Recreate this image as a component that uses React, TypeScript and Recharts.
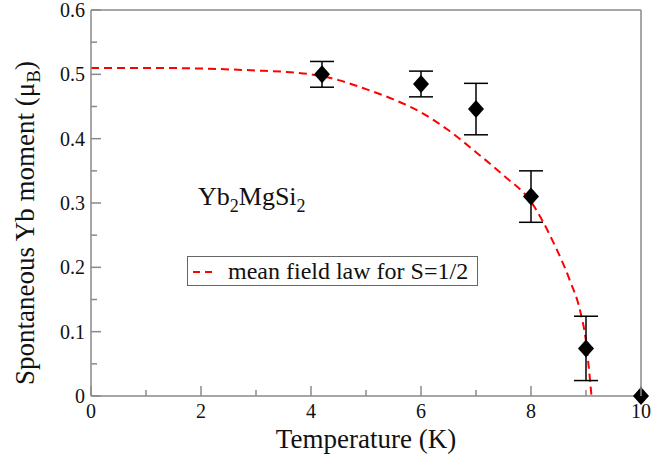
import React from 'react';
import { ComposedChart, Line, Scatter, ErrorBar, XAxis, YAxis, Legend } from 'recharts';

// measured moments
const temps = [4.2, 6, 7, 8, 9, 10];
const moments = [0.5, 0.485, 0.446, 0.31, 0.074, 0];
const errors = [0.02, 0.02, 0.04, 0.04, 0.05, null];

// mean field law for S=1/2
const curveT = [0, 1, 2, 3, 3.5, 4, 4.5, 5, 5.5, 6, 6.5, 7, 7.5, 8, 8.4, 8.7, 8.9, 9.0, 9.05, 9.1];
const curveM = [0.51, 0.51, 0.509, 0.506, 0.504, 0.5, 0.491, 0.477, 0.461, 0.441, 0.413, 0.379, 0.343, 0.302, 0.24, 0.181, 0.13, 0.085, 0.045, 0];

const xTicks = [0, 1, 2, 3, 4, 5, 6, 7, 8, 9, 10];
const yTicks = [0, 0.05, 0.1, 0.15, 0.2, 0.25, 0.3, 0.35, 0.4, 0.45, 0.5, 0.55, 0.6];

const points = temps.map((t, i) => ({ t, m: moments[i], err: errors[i] }));
const curve = curveT.map((t, i) => ({ t, m: curveM[i] }));

const FONT = '"Liberation Serif", "Times New Roman", serif';
const AXIS = '#8a8a8a';
const txt = { fontFamily: FONT };

const isMajorX = (v: number) => v % 2 === 0;
const isMajorY = (v: number) => Math.abs(v * 10 - Math.round(v * 10)) < 1e-6;

const BottomTick = ({ x, y, payload }: any) => {
  const major = isMajorX(payload.value);
  return (
    <g>
      <line x1={x} x2={x} y1={y} y2={y - (major ? 10 : 6)} stroke={AXIS} strokeWidth={1.5} />
      {major && (
        <text x={x} y={y + 22} textAnchor="middle" fontSize={20} style={txt} fill="#111">
          {payload.value}
        </text>
      )}
    </g>
  );
};

const TopTick = ({ x, y, payload }: any) => (
  <line x1={x} x2={x} y1={y} y2={y + (isMajorX(payload.value) ? 10 : 6)} stroke={AXIS} strokeWidth={1.5} />
);

const LeftTick = ({ x, y, payload }: any) => {
  const major = isMajorY(payload.value);
  return (
    <g>
      <line x1={x} x2={x + (major ? 10 : 6)} y1={y} y2={y} stroke={AXIS} strokeWidth={1.5} />
      {major && (
        <text x={x - 6} y={y + 7} textAnchor="end" fontSize={20} style={txt} fill="#111">
          {Number(payload.value.toFixed(1)) === 0 ? '0' : payload.value.toFixed(1)}
        </text>
      )}
    </g>
  );
};

const RightTick = ({ x, y, payload }: any) => (
  <line x1={x} x2={x - (isMajorY(payload.value) ? 10 : 6)} y1={y} y2={y} stroke={AXIS} strokeWidth={1.5} />
);

const Diamond = ({ cx, cy }: any) => (
  <polygon points={`${cx},${cy - 9} ${cx + 8},${cy} ${cx},${cy + 9} ${cx - 8},${cy}`} fill="#000" />
);

const XTitle = ({ viewBox }: any) => (
  <text x={viewBox.x + viewBox.width / 2} y={448} textAnchor="middle" fontSize={27} style={txt} fill="#111">
    Temperature (K)
  </text>
);

const YTitle = () => (
  <text transform="translate(34,223) rotate(-90)" textAnchor="middle" fontSize={27} style={txt} fill="#111">
    Spontaneous Yb moment (μ<tspan dy={6} fontSize={19}>B</tspan><tspan dy={-6}>)</tspan>
  </text>
);

const Overlay = () => (
  <div style={{ position: 'relative', width: 667, height: 459, fontFamily: FONT, color: '#111' }}>
    <div style={{ position: 'absolute', left: 198, top: 182, fontSize: 26, lineHeight: '30px', whiteSpace: 'nowrap' }}>
      Yb<sub style={{ fontSize: 18, verticalAlign: '-7px' }}>2</sub>MgSi<sub style={{ fontSize: 18, verticalAlign: '-7px' }}>2</sub>
    </div>
    <div
      style={{
        position: 'absolute', left: 187, top: 256, width: 289, height: 28,
        border: '1.5px solid #666', background: '#fff', display: 'flex', alignItems: 'center',
        fontSize: 24, whiteSpace: 'nowrap',
      }}
    >
      <svg width={40} height={28}>
        <line x1={5} x2={27} y1={15} y2={15} stroke="#ff0000" strokeWidth={2} strokeDasharray="7 5" />
      </svg>
      <span>mean field law for S=1/2</span>
    </div>
  </div>
);

export default function App() {
  return (
    <div style={{ position: 'absolute', left: 0, top: 0, width: 667, height: 459, background: '#fff' }}>
      <ComposedChart width={667} height={459} margin={{ top: 9, right: 25, bottom: 62, left: 90 }}>
        <XAxis
          xAxisId="x" dataKey="t" type="number" domain={[0, 10]} ticks={xTicks} interval={0}
          height={1} tickSize={0} tickMargin={0} tickLine={false} tick={<BottomTick />}
          axisLine={{ stroke: AXIS, strokeWidth: 1.5 }}
          label={{ content: <XTitle /> }}
        />
        <XAxis
          xAxisId="top" orientation="top" type="number" domain={[0, 10]} ticks={xTicks} interval={0}
          height={1} tickSize={0} tickMargin={0} tickLine={false} tick={<TopTick />}
          axisLine={{ stroke: AXIS, strokeWidth: 1.5 }}
        />
        <YAxis
          yAxisId="y" dataKey="m" type="number" domain={[0, 0.6]} ticks={yTicks} interval={0}
          width={1} tickSize={0} tickMargin={0} tickLine={false} tick={<LeftTick />}
          axisLine={{ stroke: AXIS, strokeWidth: 1.5 }}
          label={{ content: <YTitle /> }}
        />
        <YAxis
          yAxisId="right" orientation="right" type="number" domain={[0, 0.6]} ticks={yTicks} interval={0}
          width={1} tickSize={0} tickMargin={0} tickLine={false} tick={<RightTick />}
          axisLine={{ stroke: AXIS, strokeWidth: 1.5 }}
        />
        <Line
          xAxisId="x" yAxisId="y" data={curve} dataKey="m" type="monotone" stroke="#ff0000"
          strokeWidth={2} strokeDasharray="8 5" dot={false} isAnimationActive={false}
        />
        <Scatter xAxisId="x" yAxisId="y" data={points} dataKey="m" shape={<Diamond />} isAnimationActive={false}>
          <ErrorBar dataKey="err" direction="y" width={12} stroke="#000" strokeWidth={1.5} />
        </Scatter>
        <Legend
          layout="horizontal" verticalAlign="middle" align="center"
          wrapperStyle={{ left: 0, top: 0, width: 667, height: 459, pointerEvents: 'none' }}
          content={() => <Overlay />}
        />
      </ComposedChart>
    </div>
  );
}
